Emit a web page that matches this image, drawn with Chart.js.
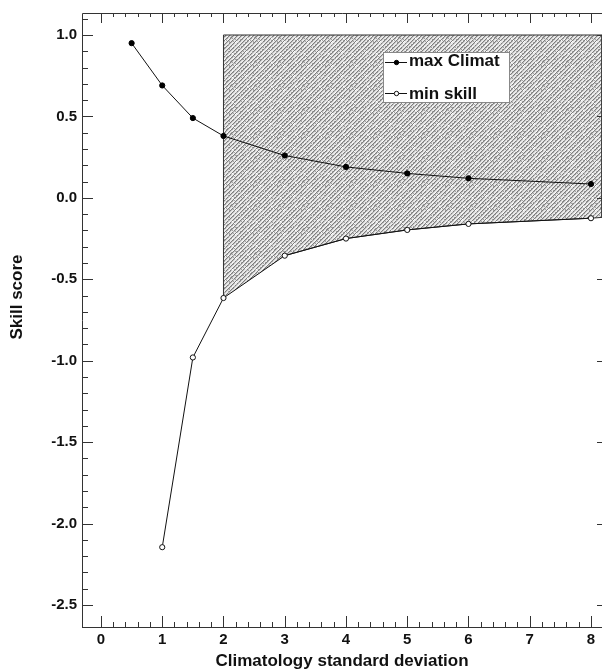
<!DOCTYPE html>
<html><head><meta charset="utf-8">
<script src="https://cdn.jsdelivr.net/npm/chart.js@4.4.0/dist/chart.umd.min.js"></script>
<style>html,body{margin:0;padding:0;background:#fff;overflow:hidden}#wrap{width:602px;height:669px;position:relative}canvas{display:block}</style>
</head><body><div id="wrap"><canvas id="c"></canvas></div>
<script>
// ---- data ----
const climatSD = [0.5, 1, 1.5, 2, 3, 4, 5, 6, 8];
const maxClimat = [0.95, 0.69, 0.49, 0.38, 0.26, 0.19, 0.15, 0.12, 0.085];
const minSkillSD = [1, 1.5, 2, 3, 4, 5, 6, 8];
const minSkill = [-2.145, -0.98, -0.615, -0.355, -0.25, -0.197, -0.16, -0.125];
const shadeStartSD = 2;
const shadeTop = 1.0;
const shadeEdgeValue = -0.12;
const xTicks = [0, 1, 2, 3, 4, 5, 6, 7, 8];
const yTicks = [-2.5, -2.0, -1.5, -1.0, -0.5, 0.0, 0.5, 1.0];
const xRange = [-0.31, 8.18];
const yRange = [-2.635, 1.135];
const labels = ['max Climat', 'min skill'];
const xTitle = 'Climatology standard deviation';
const yTitle = 'Skill score';

// ---- hatch pattern ----
function makePattern() {
  const n = 24, cv = document.createElement('canvas');
  cv.width = n; cv.height = n;
  const g = cv.getContext('2d'), img = g.createImageData(n, n);
  for (let y = 0; y < n; y++) for (let x = 0; x < n; x++) {
    let v = 234;
    const d = (x + y) % 4;
    if (d === 0) v = 125;
    else if (d === 1) v = 195;
    const h = (x * 37 + y * 91 + x * y * 7) % 17;
    if (h === 0 || h === 5) v = 165;
    else if (h === 9 && d !== 0) v = 252;
    const i = (y * n + x) * 4;
    img.data[i] = img.data[i + 1] = img.data[i + 2] = v; img.data[i + 3] = 255;
  }
  g.putImageData(img, 0, 0);
  return document.getElementById('c').getContext('2d').createPattern(cv, 'repeat');
}

const maxPts = climatSD.map((x, i) => ({x, y: maxClimat[i]}));
const minPts = minSkillSD.map((x, i) => ({x, y: minSkill[i]}));
const shadePts = [{x: shadeStartSD, y: minSkill[minSkillSD.indexOf(shadeStartSD)]},
  {x: shadeStartSD, y: shadeTop}, {x: xRange[1], y: shadeTop}, {x: xRange[1], y: shadeEdgeValue}]
  .concat(minPts.filter(p => p.x > shadeStartSD).reverse());

const F = '"Liberation Sans", Arial, Helvetica, sans-serif';

const framePlugin = {
  id: 'frame',
  afterLayout(chart) {
    // stretch the plot area to the right edge of the canvas, as in the reference
    const a = chart.chartArea, xs = chart.scales.x;
    const R = chart.width;
    if (a.right < R) {
      a.right = R; a.width = a.right - a.left;
      xs.right = R; xs.width = xs.right - xs.left;
      xs.configure();
    }
  },
  afterDatasetsDraw(chart) {
    const {ctx, chartArea: a, scales: {x, y}} = chart;
    ctx.save();
    ctx.strokeStyle = '#333'; ctx.lineWidth = 1;
    ctx.beginPath();
    ctx.moveTo(a.left + 0.5, a.bottom + 0.5); ctx.lineTo(a.left + 0.5, a.top + 0.5); ctx.lineTo(a.right, a.top + 0.5);
    ctx.moveTo(a.left, a.bottom + 0.5); ctx.lineTo(a.right, a.bottom + 0.5);
    for (let v = xTicks[0]; v <= xTicks[xTicks.length - 1] + 1e-9; v += 0.2) {
      const px = Math.round(x.getPixelForValue(v)) + 0.5;
      const major = Math.abs(v - Math.round(v)) < 1e-6;
      const lb = major ? 11 : 5, lt = major ? 10 : 4;
      ctx.moveTo(px, a.bottom); ctx.lineTo(px, a.bottom - lb);
      ctx.moveTo(px, a.top); ctx.lineTo(px, a.top + lt);
    }
    for (let k = -25; k <= 11; k++) {
      const v = k / 10;
      const py = Math.round(y.getPixelForValue(v)) + 0.5;
      const major = k % 5 === 0;
      ctx.moveTo(a.left, py); ctx.lineTo(a.left + (major ? 11 : 6), py);
    }
    yTicks.forEach(v => {
      const py = Math.round(y.getPixelForValue(v)) + 0.5;
      ctx.moveTo(a.right, py); ctx.lineTo(a.right - 5, py);
    });
    ctx.stroke();
    ctx.restore();
  },
  afterDraw(chart) {
    const {ctx} = chart;
    ctx.save();
    ctx.fillStyle = '#111';
    ctx.font = 'bold 17px ' + F;
    ctx.translate(17.5, 297); ctx.rotate(-Math.PI / 2);
    ctx.textAlign = 'center'; ctx.textBaseline = 'middle';
    ctx.fillText(yTitle, 0, 0);
    ctx.restore();
    ctx.save();
    const bx = 383.5, by = 52.5, bw = 126, bh = 50;
    ctx.fillStyle = '#fff'; ctx.fillRect(bx, by, bw, bh);
    ctx.strokeStyle = '#888'; ctx.lineWidth = 1; ctx.strokeRect(bx, by, bw, bh);
    const rows = [62.5, 93.5];
    chart.data.datasets.slice(0, 2).forEach((ds, i) => {
      const yy = rows[i];
      ctx.strokeStyle = ds.borderColor; ctx.lineWidth = 1;
      ctx.beginPath(); ctx.moveTo(385, yy); ctx.lineTo(407, yy); ctx.stroke();
      ctx.beginPath(); ctx.arc(396.5, yy, 2.2, 0, Math.PI * 2);
      ctx.fillStyle = ds.pointBackgroundColor; ctx.fill();
      ctx.strokeStyle = ds.pointBorderColor; ctx.stroke();
      ctx.fillStyle = '#111'; ctx.font = 'bold 17px ' + F;
      ctx.textAlign = 'left'; ctx.textBaseline = 'alphabetic';
      ctx.fillText(ds.label, 409, yy + (i === 0 ? 3.5 : 5.5));
    });
    ctx.restore();
  }
};

new Chart(document.getElementById('c'), {
  type: 'line',
  data: {
    datasets: [
      {label: labels[0], data: maxPts, borderColor: '#111', borderWidth: 1,
       pointRadius: 2.6, pointBackgroundColor: '#000', pointBorderColor: '#000', pointBorderWidth: 1, fill: false, order: 1},
      {label: labels[1], data: minPts, borderColor: '#111', borderWidth: 1,
       pointRadius: 2.6, pointBackgroundColor: '#fff', pointBorderColor: '#111', pointBorderWidth: 1, fill: false, order: 2},
      {label: 'region', data: shadePts, borderColor: '#333', borderWidth: 1, pointRadius: 0,
       backgroundColor: makePattern(), fill: 'shape', order: 3}
    ]
  },
  options: {
    responsive: true, maintainAspectRatio: false, animation: false,
    layout: {padding: {top: 13, right: 0, left: 0, bottom: 0}},
    plugins: {legend: {display: false}, tooltip: {enabled: false}},
    elements: {line: {tension: 0}},
    scales: {
      x: {
        type: 'linear', min: xRange[0], max: xRange[1],
        afterBuildTicks: s => { s.ticks = xTicks.map(v => ({value: v})); },
        afterFit: s => { s.height = 42; s.paddingLeft = 0; s.paddingRight = 0; },
        grid: {display: false, drawTicks: false}, border: {display: false},
        ticks: {padding: 4, color: '#111', font: {family: F, size: 15, weight: 'bold'}, callback: v => String(v), maxRotation: 0, autoSkip: false},
        title: {display: true, text: xTitle, color: '#111', font: {family: F, size: 17, weight: 'bold', lineHeight: 0.88}, padding: {top: 0, bottom: 0}}
      },
      y: {
        type: 'linear', min: yRange[0], max: yRange[1],
        afterBuildTicks: s => { s.ticks = yTicks.map(v => ({value: v})); },
        afterFit: s => { s.width = 82; s.paddingTop = 0; s.paddingBottom = 0; },
        grid: {display: false, drawTicks: false}, border: {display: false},
        ticks: {padding: 5, color: '#111', font: {family: F, size: 15, weight: 'bold'}, callback: v => v.toFixed(1), autoSkip: false}
      }
    }
  },
  plugins: [framePlugin]
});
</script>
</body></html>
